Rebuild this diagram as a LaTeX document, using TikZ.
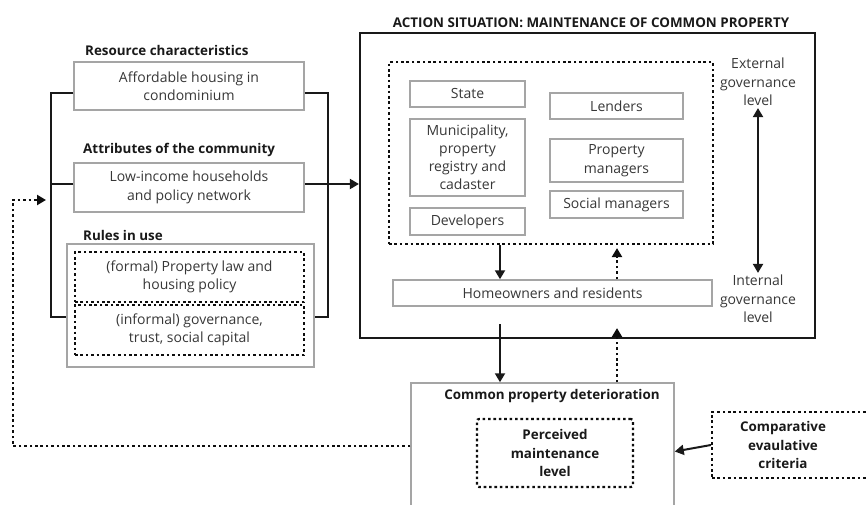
\documentclass[tikz,border=0pt]{standalone}
\usepackage{fontspec}
\setmainfont{Open Sans}
\usetikzlibrary{arrows.meta}
\definecolor{boxgray}{RGB}{165,165,165}
\definecolor{txt}{RGB}{55,55,55}
\definecolor{hd}{RGB}{25,25,25}
\newcommand{\bfs}{\fontsize{14}{18.5}\selectfont}
\newcommand{\hfs}{\fontsize{13.4}{18.5}\selectfont}
\begin{document}
\begin{tikzpicture}[x=1pt,y=-1pt,
  graybox/.style={draw=boxgray, line width=1.5pt, text=txt, align=center, inner sep=0pt, font=\bfs},
  dotbox/.style={draw=black!95, line width=2.2pt, dash pattern=on 2.6pt off 2.8pt, align=center, inner sep=0pt},
  heading/.style={text=hd, font=\hfs\bfseries, inner sep=0pt},
  plain/.style={text=txt, font=\bfs, align=center, inner sep=0pt},
  solidline/.style={draw=black!90, line width=2pt},
  arr/.style={solidline, -{Triangle[length=9pt,width=10pt]}},
  dotarr/.style={draw=black!95, line width=2.2pt, dash pattern=on 2.6pt off 2.8pt, -{Triangle[length=9pt,width=10pt]}},
  dblarr/.style={solidline, {Triangle[length=9pt,width=10pt]}-{Triangle[length=9pt,width=10pt]}}
]
\useasboundingbox (0,0) rectangle (866,505);

% left column
\node[heading, anchor=west] (h1) at (85,50) {Resource characteristics};
\node[graybox, minimum width=230pt, minimum height=48pt] (box1) at (189,86) {Affordable housing in\\condominium};
\node[heading, anchor=west] (h2) at (83,150) {Attributes of the community};
\node[graybox, minimum width=230pt, minimum height=49pt] (box2) at (189,187.5) {Low-income households\\and policy network};
\node[heading, anchor=west] (h3) at (83,235) {Rules in use};
\node[graybox, minimum width=247pt, minimum height=123pt] (rules) at (190.5,305.5) {};
\node[dotbox, text=txt, font=\bfs, minimum width=229pt, minimum height=50pt] (formal) at (189.5,277) {(formal) Property law and\\housing policy};
\node[dotbox, text=txt, font=\bfs, minimum width=229pt, minimum height=50pt] (informal) at (189.5,330) {(informal) governance,\\trust, social capital};

% brackets
\coordinate (lt) at (51,93);
\coordinate (lm) at (51,184);
\coordinate (lb) at (51,317);
\coordinate (rt) at (328,93);
\coordinate (rb) at (328,317);
\draw[solidline] (box1.west |- lt) -- (lt) -- (lb) -- (rules.west |- lb);
\draw[solidline] (box2.west |- lm) -- (lm);
\draw[solidline] (box1.east |- rt) -- (rt) -- (rb) -- (rules.east |- rb);

% action situation
\node[heading] (title) at (591,23) {ACTION SITUATION: MAINTENANCE OF COMMON PROPERTY};
\node[draw=black!90, line width=2.2pt, minimum width=455pt, minimum height=305pt, inner sep=0pt] (main) at (587.5,185.5) {};
\node[dotbox, minimum width=324pt, minimum height=182pt] (ext) at (551,153) {};
\node[graybox, minimum width=115pt, minimum height=26pt] (state) at (467.5,94) {State};
\node[graybox, minimum width=115pt, minimum height=77pt, font=\fontsize{14}{18}\selectfont] (muni) at (467.5,157.5) {Municipality,\\property\\registry and\\cadaster};
\node[graybox, minimum width=115pt, minimum height=27pt] (dev) at (467.5,221.5) {Developers};
\node[graybox, minimum width=133pt, minimum height=26pt] (lend) at (616.5,106) {Lenders};
\node[graybox, minimum width=133pt, minimum height=43pt] (pm) at (616.5,160.5) {Property\\managers};
\node[graybox, minimum width=133pt, minimum height=27pt] (sm) at (616.5,204.5) {Social managers};
\node[graybox, minimum width=319pt, minimum height=26pt] (home) at (552.5,293) {Homeowners and residents};
\node[plain] (extl) at (758,82) {External\\governance\\level};
\node[plain] (intl) at (758,299) {Internal\\governance\\level};
\draw[dblarr] ([yshift=-2pt]extl.south) -- ([yshift=2pt]intl.north);

\coordinate (xa) at (500,0);
\coordinate (xb) at (617,0);
\draw[arr] (ext.south -| xa) -- (home.north -| xa);
\draw[dotarr] (home.north -| xb) -- ([yshift=-3pt]ext.south -| xb);

\draw[arr] (box2.east |- lm) -- (main.west |- lm);

% bottom
\node[graybox, minimum width=263pt, minimum height=137pt] (cp) at (542.5,451.5) {};
\node[heading] (cpt) at (552,396) {Common property deterioration};
\node[dotbox, rounded corners=2pt, minimum width=156pt, minimum height=68pt, text=hd, font=\hfs\bfseries] (perc) at (555,453) {Perceived\\maintenance\\level};
\node[dotbox, minimum width=168pt, minimum height=66pt] (comp) at (796,445) {};
\node[heading, align=center] (compt) at (783,445) {Comparative\\evaulative\\criteria};

\draw[arr] ([yshift=15pt]main.south -| xa) -- (cp.north -| xa);
\draw[dotarr] (cp.north -| xb) -- ([yshift=11pt]main.south -| xb);
\draw[arr] (comp.west) -- (cp.east);

% feedback
\coordinate (fb1) at (13,446);
\coordinate (fb2) at (13,200);
\coordinate (fb3) at (46,200);
\draw[dotarr] (cp.west |- fb1) -- (fb1) -- (fb2) -- (fb3);
\end{tikzpicture}
\end{document}
